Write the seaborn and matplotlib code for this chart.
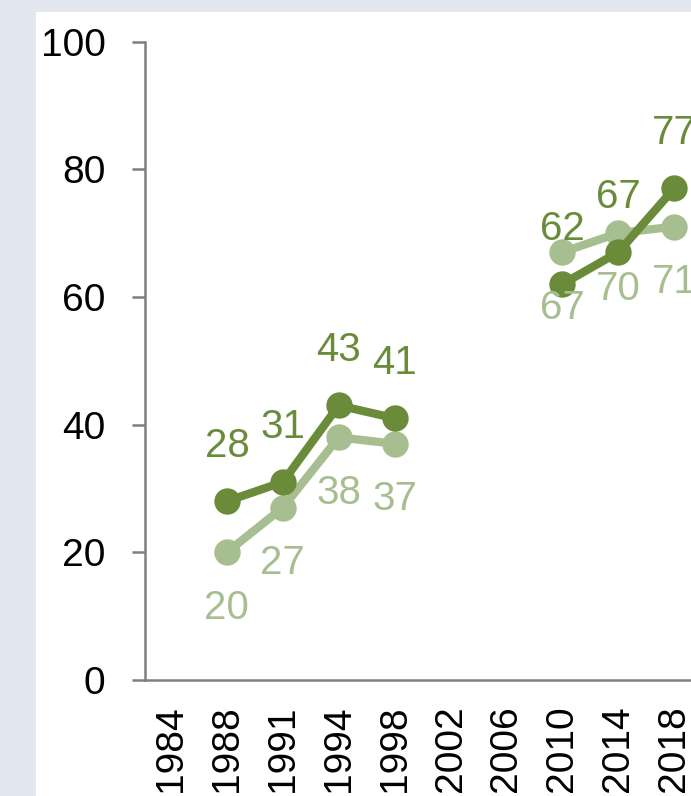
import numpy as np
import pandas as pd
import seaborn as sns
import matplotlib
matplotlib.use("Agg")
import matplotlib.pyplot as plt
from matplotlib.patches import Rectangle

years = ["1984", "1988", "1991", "1994", "1998", "2002", "2006", "2010", "2014", "2018"]
dark_values = [np.nan, 28, 31, 43, 41, np.nan, np.nan, 62, 67, 77]
light_values = [np.nan, 20, 27, 38, 37, np.nan, np.nan, 67, 70, 71]
y_ticks = [0, 20, 40, 60, 80, 100]

DARK = "#6a8c3a"
LIGHT = "#a7be90"

sns.set_theme(style="white")
plt.rcParams["font.family"] = ["Liberation Sans", "DejaVu Sans"]


def to_frame(values):
    df = pd.DataFrame({"idx": np.arange(len(years)), "val": values})
    df["segment"] = df["val"].isna().cumsum()
    return df.dropna()


fig = plt.figure(figsize=(6.91, 7.96), dpi=100)
fig.patch.set_facecolor("white")
fig.patches.append(Rectangle((0, 0), 36 / 691, 1, transform=fig.transFigure,
                             facecolor="#e3e7f0", edgecolor="none", zorder=0))
fig.patches.append(Rectangle((0, 1 - 12 / 796), 1, 12 / 796, transform=fig.transFigure,
                             facecolor="#e3e7f0", edgecolor="none", zorder=0))

ax = fig.add_axes([145 / 691, 1 - 680 / 796, 1 - 145 / 691, (680 - 41.5) / 796])
ax.set_facecolor("none")

for vals, col, z in [(light_values, LIGHT, 2), (dark_values, DARK, 3)]:
    sns.lineplot(data=to_frame(vals), x="idx", y="val", units="segment", estimator=None,
                 color=col, linewidth=6, marker="o", markersize=19,
                 markeredgewidth=0, ax=ax, zorder=z, legend=False)

for i, v in enumerate(dark_values):
    if not np.isnan(v):
        ax.annotate(f"{int(v)}", (i, v), xytext=(0, 40), textcoords="offset points",
                    ha="center", va="center", fontsize=29, color=DARK,
                    annotation_clip=False)
for i, v in enumerate(light_values):
    if not np.isnan(v):
        ax.annotate(f"{int(v)}", (i, v), xytext=(0, -40), textcoords="offset points",
                    ha="center", va="center", fontsize=29, color=LIGHT,
                    annotation_clip=False)

ax.set_xlim(-0.465, 9.30)
ax.set_ylim(0, 100)
ax.set_xticks(np.arange(len(years)))
ax.set_xticklabels(years, rotation=90, fontsize=28, color="black")
ax.set_yticks(y_ticks)
ax.set_yticklabels([str(t) for t in y_ticks], fontsize=28, color="black")
ax.set_xlabel("")
ax.set_ylabel("")

for s in ["top", "right"]:
    ax.spines[s].set_visible(False)
for s in ["left", "bottom"]:
    ax.spines[s].set_color("#7f7f7f")
    ax.spines[s].set_linewidth(1.8)

ax.tick_params(axis="y", which="both", left=True, length=9.4, width=1.8, color="#7f7f7f", pad=19)
ax.tick_params(axis="x", which="both", bottom=False, length=0, pad=18)

fig.savefig("out.png", dpi=100)
